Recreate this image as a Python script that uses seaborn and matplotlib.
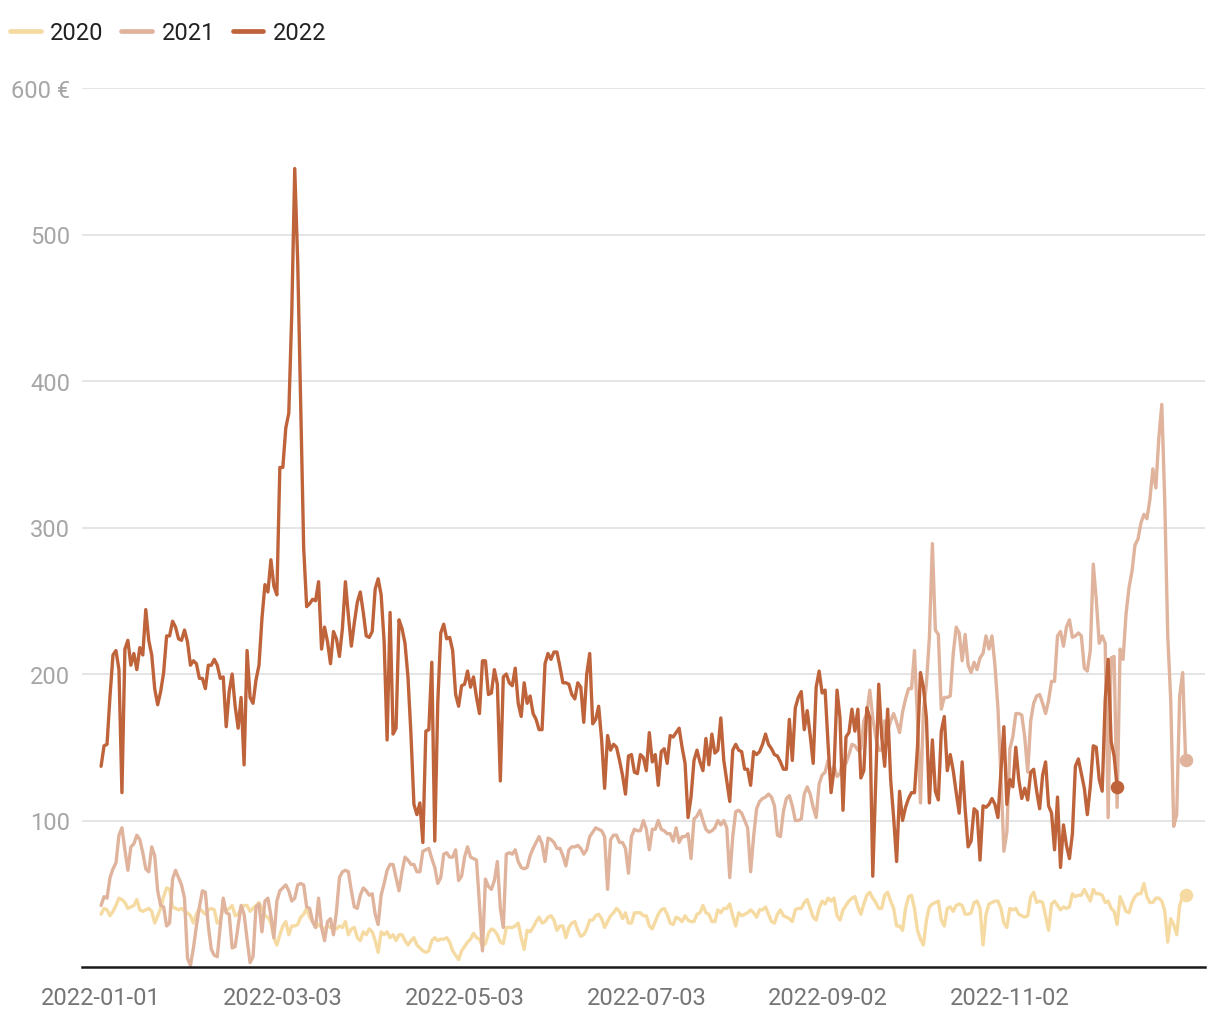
import numpy as np
import pandas as pd
import matplotlib
matplotlib.use("Agg")
import matplotlib.pyplot as plt
import seaborn as sns
from matplotlib.lines import Line2D

# ---------------- data (daily values) ----------------
years = ["2020", "2021", "2022"]

price_2020 = [
    36, 40, 39, 35, 38, 42, 47, 46, 44, 40, 41, 42, 46, 39, 38, 39, 40, 38, 30, 35,
    40, 48, 54, 53, 41, 40, 39, 40, 38, 37, 35, 30, 36, 40, 38, 36, 39, 40, 39, 30,
    32, 41, 38, 40, 42, 35, 36, 40, 42, 42, 38, 40, 42, 44, 40, 35, 34, 30, 20, 15,
    22, 28, 31, 22, 28, 28, 29, 34, 36, 40, 34, 31, 27, 29, 27, 26, 28, 27, 28, 26,
    28, 27, 31, 22, 26, 27, 20, 18, 24, 22, 26, 24, 18, 10, 24, 22, 24, 20, 22, 18,
    22, 22, 18, 15, 18, 20, 15, 13, 11, 10, 11, 18, 20, 18, 19, 19, 20, 17, 11, 8,
    5, 11, 14, 17, 19, 23, 20, 19, 14, 16, 23, 26, 25, 22, 17, 16, 27, 27, 27, 28,
    30, 20, 12, 25, 24, 27, 31, 34, 30, 31, 34, 35, 32, 25, 28, 28, 20, 27, 30, 31,
    25, 21, 22, 26, 32, 32, 35, 36, 33, 27, 31, 35, 37, 40, 38, 33, 37, 30, 30, 37,
    37, 37, 35, 35, 28, 26, 31, 36, 39, 40, 36, 30, 29, 34, 33, 31, 35, 32, 31, 31,
    36, 37, 42, 37, 36, 31, 31, 39, 37, 40, 40, 43, 35, 28, 37, 35, 36, 37, 39, 37,
    34, 39, 39, 41, 36, 31, 30, 36, 39, 35, 34, 33, 31, 39, 40, 40, 44, 46, 40, 34,
    32, 40, 45, 43, 47, 45, 47, 35, 32, 39, 42, 45, 47, 48, 41, 36, 43, 49, 51, 47,
    44, 40, 40, 49, 51, 45, 40, 28, 28, 25, 40, 48, 49, 40, 25, 19, 15, 32, 41, 43,
    44, 45, 32, 28, 40, 41, 38, 42, 43, 42, 36, 36, 37, 44, 45, 40, 15, 36, 43, 44,
    45, 45, 40, 30, 27, 40, 39, 40, 36, 35, 34, 35, 48, 51, 44, 45, 44, 35, 25, 43,
    45, 42, 39, 41, 40, 41, 50, 48, 49, 49, 53, 49, 45, 53, 50, 50, 49, 44, 45, 40,
    38, 29, 48, 43, 38, 37, 44, 48, 50, 50, 57, 48, 44, 44, 47, 47, 45, 38, 17, 33,
    29, 22, 42, 48, 49,
]

price_2021 = [
    42, 48, 47, 61, 67, 71, 90, 95, 80, 66, 82, 84, 90, 87, 78, 67, 65, 82, 76, 52,
    42, 41, 28, 30, 60, 66, 61, 56, 47, 6, 1, 13, 28, 41, 52, 51, 28, 12, 8, 7,
    28, 47, 37, 36, 13, 14, 28, 42, 36, 19, 3, 7, 41, 43, 24, 45, 47, 35, 20, 45,
    52, 54, 56, 52, 45, 47, 56, 57, 56, 41, 40, 31, 27, 47, 27, 18, 31, 33, 22, 38,
    61, 65, 66, 65, 52, 41, 40, 49, 54, 52, 49, 50, 36, 29, 49, 57, 66, 70, 70, 61,
    52, 65, 75, 73, 70, 70, 65, 65, 79, 80, 81, 74, 68, 57, 61, 77, 78, 75, 75, 80,
    59, 62, 75, 82, 75, 74, 73, 43, 11, 60, 55, 53, 59, 72, 40, 27, 77, 78, 77, 80,
    72, 68, 67, 68, 76, 81, 85, 89, 84, 72, 88, 87, 85, 81, 81, 76, 69, 80, 82, 82,
    83, 81, 77, 80, 89, 92, 95, 94, 93, 89, 53, 87, 90, 90, 85, 85, 81, 64, 89, 94,
    93, 93, 100, 94, 80, 94, 94, 100, 94, 93, 91, 91, 86, 95, 85, 89, 89, 91, 74, 101,
    103, 107, 100, 94, 92, 93, 95, 100, 97, 100, 95, 61, 89, 106, 107, 105, 100, 95, 65, 89,
    108, 113, 115, 116, 118, 116, 110, 90, 89, 106, 115, 117, 110, 100, 100, 101, 118, 123, 118, 109,
    102, 125, 131, 133, 141, 132, 137, 130, 132, 141, 139, 145, 152, 151, 148, 149, 168, 173, 189, 170,
    157, 148, 148, 168, 161, 168, 173, 167, 160, 174, 183, 190, 190, 216, 169, 112, 175, 193, 225, 289,
    230, 227, 176, 184, 184, 185, 214, 232, 228, 209, 227, 206, 201, 208, 203, 211, 214, 226, 217, 226,
    206, 177, 131, 79, 92, 149, 157, 173, 173, 172, 157, 133, 168, 180, 185, 186, 180, 173, 182, 195,
    195, 226, 229, 219, 232, 237, 225, 226, 228, 226, 204, 202, 216, 275, 251, 221, 226, 221, 102, 211,
    212, 109, 217, 210, 241, 259, 270, 288, 292, 303, 309, 306, 319, 340, 327, 361, 384, 317, 226, 182,
    96, 104, 185, 201, 141,
]

price_2022 = [
    137, 151, 152, 185, 213, 216, 203, 119, 217, 223, 206, 214, 203, 218, 213, 244, 223, 213, 190, 179,
    188, 201, 226, 226, 236, 232, 224, 223, 230, 222, 206, 209, 207, 197, 197, 190, 206, 206, 210, 206,
    197, 198, 164, 188, 200, 178, 163, 184, 138, 216, 184, 180, 196, 206, 238, 261, 256, 278, 260, 254,
    341, 341, 368, 378, 446, 545, 481, 382, 286, 246, 248, 251, 250, 263, 217, 232, 222, 207, 229, 224,
    212, 231, 263, 240, 219, 235, 249, 256, 242, 226, 225, 229, 258, 265, 254, 222, 155, 242, 159, 163,
    237, 231, 221, 198, 159, 111, 104, 112, 85, 161, 162, 208, 86, 180, 228, 234, 224, 225, 216, 186,
    178, 192, 193, 202, 191, 198, 184, 173, 209, 209, 186, 187, 203, 193, 127, 198, 200, 194, 192, 204,
    180, 171, 194, 180, 185, 173, 169, 162, 162, 207, 214, 210, 215, 215, 205, 194, 194, 193, 186, 183,
    194, 191, 167, 200, 214, 166, 169, 178, 155, 122, 158, 148, 152, 150, 141, 131, 118, 144, 145, 133,
    132, 145, 143, 134, 160, 140, 145, 124, 147, 149, 139, 158, 157, 160, 163, 150, 139, 102, 116, 141,
    148, 140, 134, 156, 138, 159, 146, 148, 170, 141, 127, 113, 148, 152, 148, 147, 135, 135, 124, 147,
    145, 147, 152, 159, 152, 149, 145, 144, 140, 135, 135, 169, 141, 177, 184, 188, 162, 175, 158, 139,
    191, 202, 187, 189, 152, 119, 135, 189, 170, 107, 157, 160, 176, 161, 176, 129, 134, 177, 170, 62,
    128, 193, 157, 137, 176, 128, 102, 72, 120, 100, 109, 115, 119, 119, 150, 201, 191, 170, 112, 155,
    120, 114, 161, 171, 134, 145, 134, 119, 105, 140, 108, 82, 86, 108, 106, 73, 110, 109, 111, 115,
    111, 102, 133, 164, 111, 128, 123, 150, 128, 115, 122, 114, 133, 135, 120, 108, 131, 140, 110, 105,
    80, 116, 68, 97, 83, 74, 91, 137, 142, 132, 122, 104, 123, 151, 150, 128, 120, 182, 210, 154,
    144, 123,
]

x_tick_dates = ["2022-01-01", "2022-03-03", "2022-05-03", "2022-07-03", "2022-09-02", "2022-11-02"]
y_ticks = [100, 200, 300, 400, 500, 600]
y_tick_labels = ["100", "200", "300", "400", "500", "600 €"]

colors = {"2020": "#F5DAA2", "2021": "#E0B39C", "2022": "#BF633B"}

# ---------------- build table ----------------
base = pd.Timestamp("2022-01-01")
frames = []
for yr, vals in zip(years, [price_2020, price_2021, price_2022]):
    frames.append(pd.DataFrame({
        "date": base + pd.to_timedelta(np.arange(len(vals)), unit="D"),
        "price": vals,
        "year": yr,
    }))
df = pd.concat(frames, ignore_index=True)

# ---------------- plot ----------------
sns.set_theme(style="white")
plt.rcParams["font.family"] = ["Roboto", "DejaVu Sans"]

W, H = 1220, 1020
fig = plt.figure(figsize=(W / 100, H / 100), dpi=100)
ax = fig.add_axes([82 / W, 1 - 968 / H, (1205 - 82) / W, (968 - 89) / H])

sns.lineplot(data=df, x="date", y="price", hue="year", hue_order=years,
             palette=colors, linewidth=2.4, estimator=None, legend=False, ax=ax)

# end-point markers
for yr in years:
    sub = df[df["year"] == yr]
    ax.scatter(sub["date"].iloc[-1], sub["price"].iloc[-1], s=95,
               color=colors[yr], zorder=5, linewidths=0)

ax.set_ylim(0, 600)
ax.set_xlim(base - pd.Timedelta(days=6.4), base + pd.Timedelta(days=370.5))

ax.set_yticks(y_ticks)
ax.set_yticklabels(y_tick_labels)
ax.set_xticks(pd.to_datetime(x_tick_dates))
ax.set_xticklabels(x_tick_dates)
ax.set_xlabel("")
ax.set_ylabel("")

ax.yaxis.grid(True, color="#e3e3e3", linewidth=1.3)
ax.xaxis.grid(False)
ax.set_axisbelow(True)

ax.tick_params(axis="y", length=0, pad=8.5, labelsize=17, labelcolor="#a6a6a6")
ax.tick_params(axis="x", length=0, pad=14, labelsize=17, labelcolor="#757575")

for s in ["left", "right", "top"]:
    ax.spines[s].set_visible(False)
ax.spines["bottom"].set_color("#1a1a1a")
ax.spines["bottom"].set_linewidth(1.8)

handles = [Line2D([0], [0], color=colors[y], lw=3.4, solid_capstyle="round") for y in years]
fig.legend(handles, years, loc="upper left", bbox_to_anchor=(10 / W, 1 - 22 / H),
           ncol=3, frameon=False, fontsize=17, handlelength=1.3, handletextpad=0.4,
           columnspacing=0.75, borderpad=0, borderaxespad=0, labelcolor="#222222")

fig.savefig("out.png", dpi=100)
